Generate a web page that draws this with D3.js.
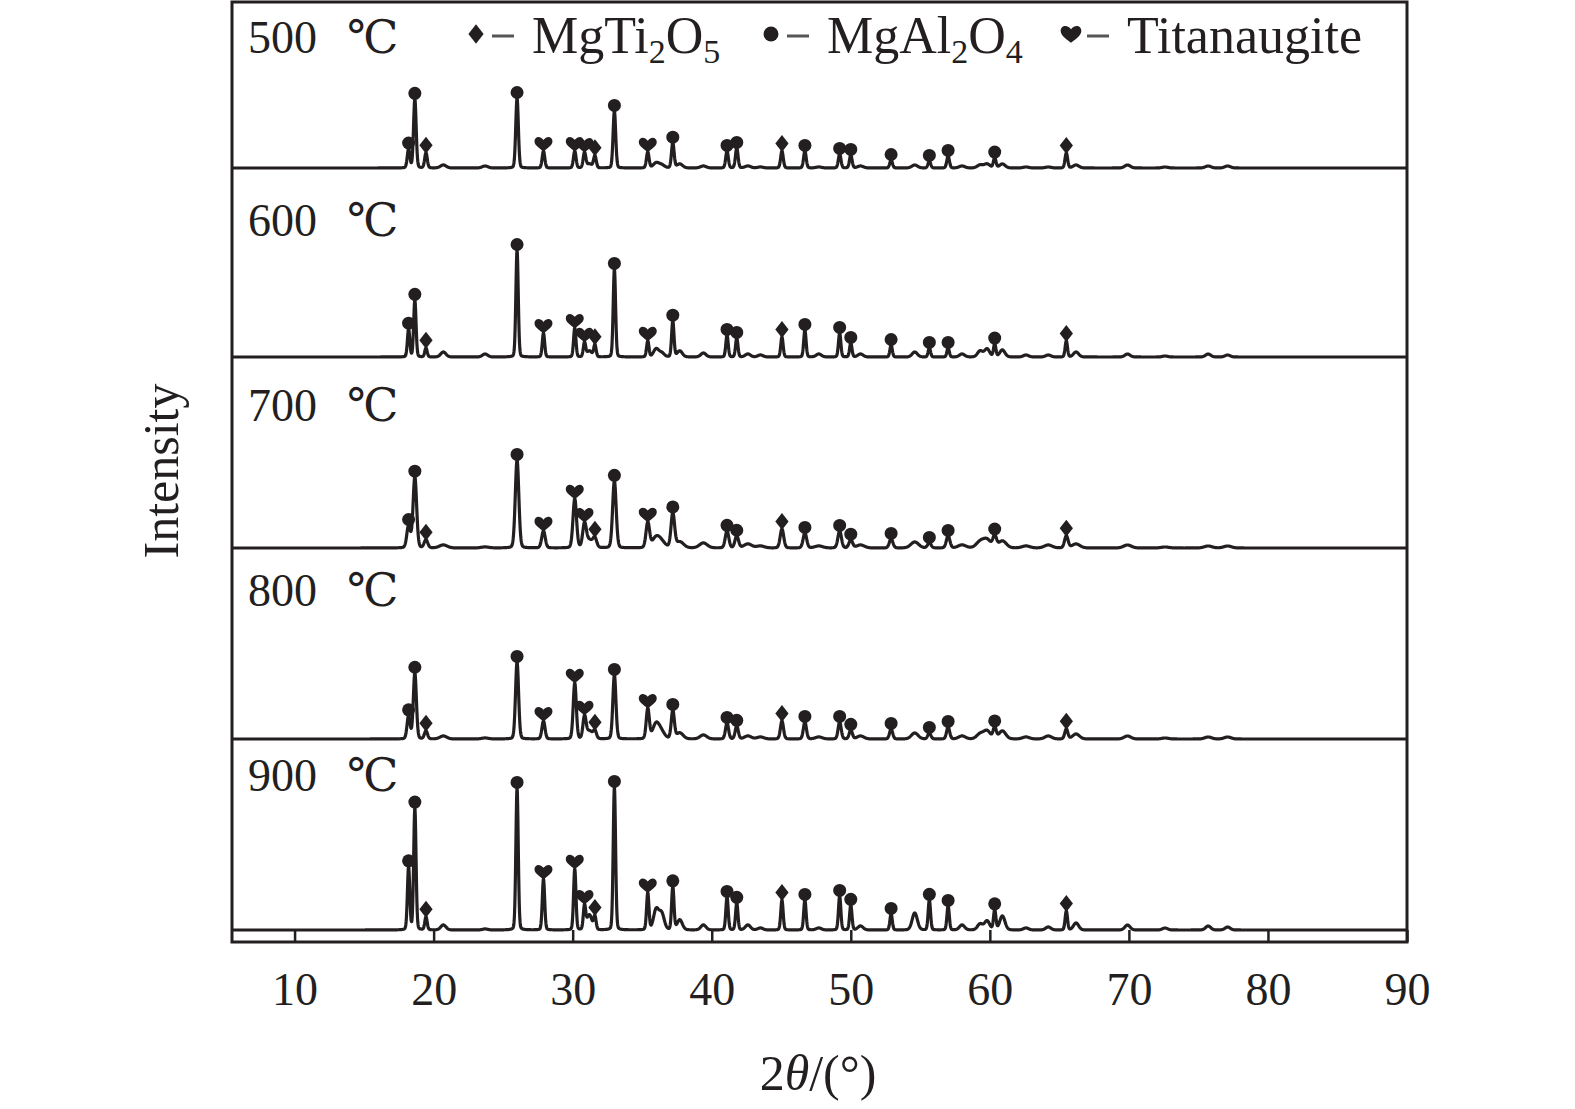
<!DOCTYPE html>
<html>
<head>
<meta charset="utf-8">
<script src="https://cdn.jsdelivr.net/npm/d3@7"></script>
<style>
  html, body { margin: 0; padding: 0; background: #fff; }
  svg { display: block; }
  text { font-family: "Liberation Serif", "DejaVu Serif", serif; fill: #231f20; }
</style>
</head>
<body>
<svg id="xrd" width="1575" height="1109"></svg>
<script>
// temperatures, one pattern each (top to bottom)
const temps = ["500", "600", "700", "800", "900"];
// vertical offset of each pattern's baseline (a.u.)
const offsets = [774, 585, 394, 203, 12];

// marked peaks: 2theta and phase (d = MgTi2O5, c = MgAl2O4, h = Titanaugite)
const peakPos = [18.2, 18.65, 19.45, 26.0, 27.9, 30.15, 30.85, 31.6, 33.0, 35.4, 37.2,
                 41.1, 41.8, 45.05, 46.7, 49.2, 50.0, 52.9, 55.65, 57.0, 60.35, 65.5];
const peakPhase = ["c", "c", "d", "c", "h", "h", "h", "d", "c", "h", "c",
                   "c", "c", "d", "c", "c", "c", "c", "c", "c", "c", "d"];
// peak heights (a.u.) per pattern
const h500 = [19, 69, 15, 70, 17, 17, 15, 12, 57, 16, 25, 17, 20, 17, 17, 14, 13, 8, 7, 12, 10, 15];
const h600 = [28, 57, 9, 107, 24, 29, 14, 12, 88, 16, 36, 22, 19, 20, 27, 24, 14, 12, 9, 9, 13, 16];
const h700 = [22, 71, 8, 88, 17, 49, 22, 8, 67, 25, 34, 17, 12, 19, 15, 17, 8, 9, 5, 12, 11, 12];
const h800 = [23, 66, 8, 77, 18, 56, 21, 7, 64, 30, 28, 16, 13, 18, 17, 17, 9, 10, 6, 12, 11, 10];
const h900 = [63, 122, 13, 142, 51, 61, 23, 13, 143, 37, 43, 33, 27, 30, 30, 34, 25, 16, 30, 24, 20, 19];
const heights = [h500, h600, h700, h800, h900];

// small unmarked reflections: 2theta and heights [500, 600, 700, 800, 900]
const minorPos = [20.7, 23.7, 31.2, 36.0, 36.4, 37.7, 39.4, 42.6, 43.5, 47.7, 50.7, 54.6,
                  58.0, 59.3, 59.8, 60.9, 62.6, 64.2, 66.2, 69.9, 72.6, 75.7, 77.1];
const minorH = [
  [3, 5, 3, 3, 5], [2, 3, 1, 1, 1], [4, 6, 8, 8, 15], [5, 8, 10, 15, 20], [3, 4, 5, 6, 16],
  [4, 6, 6, 6, 10], [2, 4, 5, 4, 5], [2, 3, 4, 3, 5], [1, 2, 2, 2, 2], [1, 3, 2, 2, 2],
  [2, 3, 3, 3, 4], [3, 5, 6, 6, 17], [2, 3, 3, 3, 5], [3, 6, 6, 5, 6], [4, 8, 8, 8, 9],
  [4, 7, 7, 8, 14], [1, 2, 2, 2, 2], [1, 2, 3, 3, 3], [3, 5, 4, 5, 7], [3, 3, 3, 3, 5],
  [1, 1, 1, 1, 2], [2, 3, 2, 2, 4], [2, 2, 2, 2, 3]
];
// peak width (FWHM, degrees) of each pattern
const fwhm = [0.22, 0.2, 0.3, 0.26, 0.2];

const xTicks = [10, 20, 30, 40, 50, 60, 70, 80, 90];

const ink = "#231f20";
const svg = d3.select("#xrd");
const plotLeft = 232, plotRight = 1407, plotTop = 2, plotBottom = 942;

const x = d3.scaleLinear().domain([5.5, 90]).range([plotLeft, plotRight]);
const y = d3.scaleLinear().domain([0, 940]).range([plotBottom, plotTop]);

function pv(t, pos, h, w) {
  const u = (t - pos) / w;
  const g = Math.exp(-4 * Math.LN2 * u * u);
  const l = 1 / (1 + 4 * u * u);
  return h * (0.12 * l + 0.88 * g);
}

function profile(i, t) {
  let s = 0;
  peakPos.forEach((p, k) => { s += pv(t, p, heights[i][k], fwhm[i]); });
  minorPos.forEach((p, k) => { s += pv(t, p, minorH[k][i], fwhm[i] * 2.2); });
  return s;
}

const grid = d3.range(5.5, 90.001, 0.02);
const line = d3.line().x(d => x(d[0])).y(d => y(d[1]));

// heart symbol for titanaugite
const heart = {
  draw(ctx, size) {
    const r = Math.sqrt(size) / 2;
    ctx.moveTo(0, 0.85 * r);
    ctx.bezierCurveTo(-0.3 * r, 0.55 * r, -1.0 * r, 0.2 * r, -1.0 * r, -0.3 * r);
    ctx.bezierCurveTo(-1.0 * r, -0.8 * r, -0.4 * r, -1.0 * r, 0, -0.45 * r);
    ctx.bezierCurveTo(0.4 * r, -1.0 * r, 1.0 * r, -0.8 * r, 1.0 * r, -0.3 * r);
    ctx.bezierCurveTo(1.0 * r, 0.2 * r, 0.3 * r, 0.55 * r, 0, 0.85 * r);
    ctx.closePath();
  }
};
const diamond = {
  draw(ctx, size) {
    const r = Math.sqrt(size) / 2;
    ctx.moveTo(0, -r);
    ctx.lineTo(0.78 * r, 0);
    ctx.lineTo(0, r);
    ctx.lineTo(-0.78 * r, 0);
    ctx.closePath();
  }
};
const markerShape = {
  c: { type: d3.symbolCircle, size: Math.PI * 6.5 * 6.5, lift: 5.5 },
  d: { type: diamond, size: 17 * 17, lift: 7.5 },
  h: { type: heart, size: 18 * 18, lift: 7 }
};

function marker(g, ph, cx, cy, k = 1) {
  const m = markerShape[ph];
  g.append("path")
    .attr("d", d3.symbol().type(m.type).size(m.size * k * k)())
    .attr("transform", `translate(${cx},${cy})`)
    .attr("fill", ink);
}

// patterns
temps.forEach((tmp, i) => {
  const pts = grid.map(t => [t, offsets[i] + profile(i, t)]);
  svg.append("path")
    .datum(pts)
    .attr("d", line)
    .attr("fill", "none")
    .attr("stroke", ink)
    .attr("stroke-width", 3.2)
    .attr("stroke-linejoin", "round");

  const mg = svg.append("g");
  peakPos.forEach((p, k) => {
    const tip = y(offsets[i] + profile(i, p));
    marker(mg, peakPhase[k], x(p), tip - markerShape[peakPhase[k]].lift);
  });

  // temperature label, sitting higher above its trace the lower it goes
  const ty = y(offsets[i]) - 115 - 6 * i;
  const lab = svg.append("text")
    .attr("x", 248).attr("y", ty)
    .attr("font-size", 46);
  lab.append("tspan").text(tmp);
  lab.append("tspan").attr("dx", 30).text("℃");
});

// frame
svg.append("rect")
  .attr("x", plotLeft).attr("y", plotTop)
  .attr("width", plotRight - plotLeft).attr("height", plotBottom - plotTop)
  .attr("fill", "none")
  .attr("stroke", ink)
  .attr("stroke-width", 3);

// bottom axis, ticks pointing inward
const ax = svg.append("g")
  .attr("transform", `translate(0,${plotBottom})`)
  .call(d3.axisBottom(x).tickValues(xTicks).tickSizeInner(-12).tickSizeOuter(0).tickPadding(30));
ax.select(".domain").remove();
ax.selectAll(".tick line").attr("stroke", ink).attr("stroke-width", 2.5);
ax.selectAll(".tick text")
  .attr("font-size", 46)
  .attr("font-family", "Liberation Serif")
  .attr("fill", ink);

// axis titles
const xt = svg.append("text")
  .attr("x", 818).attr("y", 1090)
  .attr("text-anchor", "middle")
  .attr("font-size", 50);
xt.append("tspan").text("2");
xt.append("tspan").attr("font-style", "italic").text("θ");
xt.append("tspan").text("/(°)");

svg.append("text")
  .attr("transform", "translate(178,471) rotate(-90)")
  .attr("text-anchor", "middle")
  .attr("font-size", 50)
  .text("Intensity");

// legend
const legend = [
  { ph: "d", mx: 476, parts: [["MgTi", 0], ["2", 1], ["O", 0], ["5", 1]] },
  { ph: "c", mx: 771, parts: [["MgAl", 0], ["2", 1], ["O", 0], ["4", 1]] },
  { ph: "h", mx: 1071, parts: [["Titanaugite", 0]] }
];
legend.forEach(it => {
  marker(svg, it.ph, it.mx, 34, 1.15);
  svg.append("line")
    .attr("x1", it.mx + 16).attr("x2", it.mx + 38)
    .attr("y1", 36).attr("y2", 36)
    .attr("stroke", "#555").attr("stroke-width", 3);
  const t = svg.append("text")
    .attr("x", it.mx + 56).attr("y", 53)
    .attr("font-size", 52);
  it.parts.forEach(([s, sub], j) => {
    const sp = t.append("tspan").text(s);
    if (sub) sp.attr("font-size", 34).attr("dy", 10);
    else if (j > 0) sp.attr("dy", -10);
  });
});
</script>
</body>
</html>
